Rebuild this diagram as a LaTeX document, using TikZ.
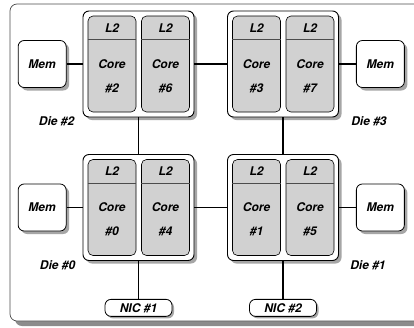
\documentclass[tikz,border=0pt]{standalone}
\usepackage{fontspec}
\setmainfont{TeX Gyre Heros}
\usetikzlibrary{positioning,shadows}

\tikzset{
  lbl/.style={font=\fontsize{12}{14}\selectfont\bfseries\itshape, inner sep=0pt},
  shade3/.style={general shadow={fill=black!35, shadow xshift=3pt, shadow yshift=-3pt}},
  diebox/.style={draw, line width=0.9pt, fill=white, rounded corners=6pt,
    minimum width=111pt, minimum height=106pt, inner sep=0pt, shade3},
  corebox/.style={draw, line width=0.6pt, fill=black!18, rounded corners=5pt,
    minimum width=48pt, minimum height=96pt, inner sep=0pt},
  l2line/.style={draw=black!70, line width=0.9pt},
  membox/.style={lbl, draw, line width=0.8pt, fill=white, rounded corners=6pt,
    minimum width=48pt, minimum height=47pt, shade3},
  nicbox/.style={lbl, draw, line width=0.8pt, fill=white, rounded corners=6pt,
    minimum width=67pt, minimum height=17pt,
    general shadow={fill=black!35, shadow xshift=2pt, shadow yshift=-2pt}},
  link/.style={line width=1.2pt},
}

\begin{document}
\begin{tikzpicture}[x=1pt,y=-1pt]

  \useasboundingbox (0,0) rectangle (414,327);
  \clip (0,0) rectangle (414,327);

  % board frame with its shadow
  \fill[black!45, rounded corners=7pt] (15,9) rectangle (429,326);
  \draw[draw=black!70, fill=white, line width=0.7pt, rounded corners=7pt] (10,4) rectangle (424,321);

  % dies, each with two cores
  \foreach \d/\x/\y/\a/\b in {2/138.5/64/2/6, 3/283/64/3/7, 0/138.5/207.5/0/4, 1/283/207.5/1/5}{
    \node[diebox] (d\d) at (\x,\y) {};
    \node[corebox] (c\a) at ([xshift=-26.5pt]d\d.center) {};
    \node[corebox] (c\b) at ([xshift=27pt]d\d.center) {};
    \foreach \c in {\a,\b}{
      \draw[l2line] ([yshift=-24pt]c\c.north west) -- ([yshift=-24pt]c\c.north east); % L2 band
      \node[lbl] (l2\c) at ([yshift=-12pt]c\c.north) {L2};
      \node[lbl] (core\c) at (c\c.center) {Core};
      \node[lbl] (num\c) at ([yshift=-24pt]c\c.center) {\#\c};
    }
  }

  % die names
  \node[lbl] (n2) at ([xshift=-26pt,yshift=-4pt]d2.south west) {Die \#2};
  \node[lbl] (n3) at ([xshift=30pt,yshift=-4pt]d3.south east) {Die \#3};
  \node[lbl] (n0) at ([xshift=-25pt,yshift=-4pt]d0.south west) {Die \#0};
  \node[lbl] (n1) at ([xshift=29pt,yshift=-4pt]d1.south east) {Die \#1};

  % memories and NICs
  \node[membox, left=16pt of d2] (m2) {Mem};
  \node[membox, right=17pt of d3] (m3) {Mem};
  \node[membox, left=16pt of d0] (m0) {Mem};
  \node[membox, right=17pt of d1] (m1) {Mem};
  \node[nicbox, below=38pt of d0] (nic1) {NIC \#1};
  \node[nicbox, below=38pt of d1] (nic2) {NIC \#2};

  % links
  \draw[link] (m2) -- (d2);
  \draw[link] (d2) -- (d3);
  \draw[link] (d3) -- (m3);
  \draw[link] (m0) -- (d0);
  \draw[link] (d0) -- (d1);
  \draw[link] (d1) -- (m1);
  \draw[link] (d2) -- (d0);
  \draw[link] (d3) -- (d1);
  \draw[link] (d0) -- (nic1);
  \draw[link] (d1) -- (nic2);

\end{tikzpicture}
\end{document}
